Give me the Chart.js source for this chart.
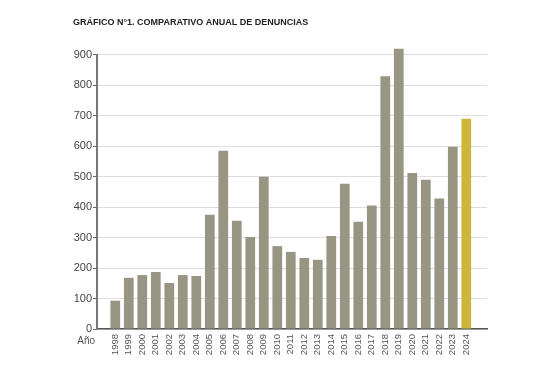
<!DOCTYPE html>
<html>
<head>
<meta charset="utf-8">
<script src="https://cdn.jsdelivr.net/npm/chart.js@4.4.1/dist/chart.umd.min.js"></script>
<style>
  body { margin: 0; background: #fff; }
  #wrap { width: 547px; height: 371px; }
</style>
</head>
<body>
<div id="wrap"><canvas id="denunciasChart" width="547" height="371"></canvas></div>
<script>
const years = [1998, 1999, 2000, 2001, 2002, 2003, 2004, 2005, 2006, 2007, 2008, 2009, 2010,
    2011, 2012, 2013, 2014, 2015, 2016, 2017, 2018, 2019, 2020, 2021, 2022, 2023, 2024];
const denuncias = [93, 168, 177, 187, 151, 177, 174, 375, 585, 355, 302, 500, 272,
    253, 233, 227, 305, 477, 352, 405, 830, 920, 512, 490, 428, 598, 690];
const yTicks = [0, 100, 200, 300, 400, 500, 600, 700, 800, 900];

const grey = 'rgb(152, 149, 131)';
const yellow = 'rgb(204, 183, 58)';

const axisFont = { family: "'Liberation Sans', Arial, sans-serif", size: 11 };

// "Año" sits left of the rotated year labels
const anoLabel = {
    id: 'anoLabel',
    afterDraw(chart) {
        const ctx = chart.ctx;
        const x = chart.scales.x;
        ctx.save();
        ctx.font = "10px 'Liberation Sans', Arial, sans-serif";
        ctx.fillStyle = '#555';
        ctx.textAlign = 'right';
        ctx.textBaseline = 'middle';
        ctx.fillText('Año', chart.chartArea.left - 2, x.top + 12);
        ctx.restore();
    }
};

const el = document.getElementById('denunciasChart');

new Chart(el, {
    type: 'bar',
    data: {
        datasets: [{
            label: 'Denuncias',
            data: years.map((y, i) => ({ x: y, y: denuncias[i] })),
            backgroundColor: years.map(y => y === 2024 ? yellow : grey),
            borderWidth: 0,
            categoryPercentage: 1,
            barPercentage: 0.72,
            clip: false
        }]
    },
    options: {
        responsive: false,
        animation: false,
        layout: {
            padding: { left: 73, right: 60, top: 0, bottom: 12 }
        },
        plugins: {
            legend: { display: false },
            tooltip: { enabled: false },
            title: {
                display: true,
                text: 'GRÁFICO N°1. COMPARATIVO ANUAL DE DENUNCIAS',
                align: 'start',
                color: '#222',
                font: { family: "'Liberation Sans', Arial, sans-serif", size: 9, weight: 'bold' },
                padding: { top: 17, bottom: 27 }
            }
        },
        scales: {
            x: {
                type: 'linear',
                min: 1997.18,
                max: 2025,
                afterBuildTicks: scale => {
                    scale.ticks = years.map(v => ({ value: v }));
                },
                afterFit: scale => { scale.height = 30; },
                grid: { display: false, drawTicks: false },
                border: { display: true, color: '#555', width: 1.5 },
                ticks: {
                    autoSkip: false,
                    minRotation: 90,
                    maxRotation: 90,
                    padding: 5,
                    color: '#555',
                    font: { family: "'Liberation Sans', Arial, sans-serif", size: 9.5 },
                    callback: v => String(v)
                }
            },
            y: {
                min: 0,
                max: 900,
                afterBuildTicks: scale => {
                    scale.ticks = yTicks.map(v => ({ value: v }));
                },
                afterFit: scale => { scale.width = 24; },
                grid: { color: '#dedede', lineWidth: 1, tickLength: 4, tickColor: '#666', tickWidth: 1 },
                border: { display: true, color: '#777', width: 2 },
                ticks: {
                    padding: 1,
                    color: '#444',
                    font: axisFont
                }
            }
        }
    },
    plugins: [anoLabel]
});
</script>
</body>
</html>
